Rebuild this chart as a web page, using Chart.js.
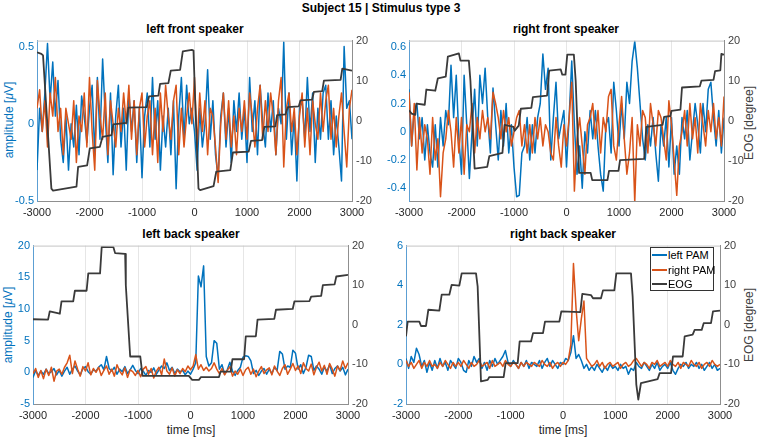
<!DOCTYPE html>
<html><head><meta charset="utf-8">
<script src="https://cdn.jsdelivr.net/npm/chart.js@4.4.1/dist/chart.umd.min.js"></script>
<style>
html,body{margin:0;padding:0;background:#fff;}
body{width:762px;height:440px;position:relative;overflow:hidden;font-family:'Liberation Sans',Arial,Helvetica,sans-serif;}
canvas{position:absolute;}
.lbl{position:absolute;white-space:nowrap;transform:translate(-50%,-50%);line-height:1;}
.ttl{font-weight:bold;font-size:12px;color:#000;}
.ax{font-size:12px;}
.rot{transform:translate(-50%,-50%) rotate(-90deg);}
#legend{position:absolute;left:650px;top:247px;width:62px;height:42px;border:1px solid #333;background:#fff;font-size:11px;color:#000;}
.li{position:absolute;left:0;height:14px;width:62px;}
.li span.sw{position:absolute;left:1px;top:6px;width:15px;height:2px;}
.li span.tx{position:absolute;left:17px;top:0;line-height:14px;white-space:nowrap;}
</style>
</head><body>

<div class="lbl ttl" style="left:381px;top:8px;">Subject 15 | Stimulus type 3</div>
<div class="lbl ttl" style="left:195px;top:29px;">left front speaker</div>
<div class="lbl ttl" style="left:566px;top:29px;">right front speaker</div>
<div class="lbl ttl" style="left:191px;top:234px;">left back speaker</div>
<div class="lbl ttl" style="left:563px;top:234px;">right back speaker</div>

<div class="lbl ax rot" style="left:9px;top:120px;color:#0072BD;">amplitude [<i>μ</i>V]</div>
<div class="lbl ax rot" style="left:8px;top:325px;color:#0072BD;">amplitude [<i>μ</i>V]</div>
<div class="lbl ax rot" style="left:749px;top:123px;color:#404040;">EOG [degree]</div>
<div class="lbl ax rot" style="left:749px;top:325px;color:#404040;">EOG [degree]</div>
<div class="lbl ax" style="left:191px;top:430px;color:#262626;">time [ms]</div>
<div class="lbl ax" style="left:563px;top:430px;color:#262626;">time [ms]</div>

<canvas id="cTL" width="381" height="195" style="left:5px;top:30px;"></canvas>
<canvas id="cTR" width="381" height="195" style="left:377px;top:30px;"></canvas>
<canvas id="cBL" width="381" height="193" style="left:1px;top:235px;"></canvas>
<canvas id="cBR" width="380" height="193" style="left:374px;top:235px;"></canvas>

<div id="legend">
  <div class="li" style="top:0px;"><span class="sw" style="background:#0072BD"></span><span class="tx">left PAM</span></div>
  <div class="li" style="top:15px;"><span class="sw" style="background:#D95319"></span><span class="tx">right PAM</span></div>
  <div class="li" style="top:29px;"><span class="sw" style="background:#3a3a3a"></span><span class="tx">EOG</span></div>
</div>

<script>
// ---------------- data ----------------
const timeMs = [
 -3000,-2950,-2900,-2850,-2800,-2750,-2700,-2650,-2600,-2550,
 -2500,-2450,-2400,-2350,-2300,-2250,-2200,-2150,-2100,-2050,
 -2000,-1950,-1900,-1850,-1800,-1750,-1700,-1650,-1600,-1550,
 -1500,-1450,-1400,-1350,-1300,-1250,-1200,-1150,-1100,-1050,
 -1000,-950,-900,-850,-800,-750,-700,-650,-600,-550,
 -500,-450,-400,-350,-300,-250,-200,-150,-100,-50,
 0,50,100,150,200,250,300,350,400,450,
 500,550,600,650,700,750,800,850,900,950,
 1000,1050,1100,1150,1200,1250,1300,1350,1400,1450,
 1500,1550,1600,1650,1700,1750,1800,1850,1900,1950,
 2000,2050,2100,2150,2200,2250,2300,2350,2400,2450,
 2500,2550,2600,2650,2700,2750,2800,2850,2900,2950,
 3000];

const xTicks = [-3000,-2000,-1000,0,1000,2000,3000];
const eogTicks = [-20,-10,0,10,20];
const ampTicksTL = [-0.5,0,0.5];
const ampTicksTR = [-0.4,-0.2,0,0.2,0.4,0.6];
const ampTicksBL = [-5,0,5,10,15,20];
const ampTicksBR = [-2,0,2,4,6];

// left front speaker
const leftPamTL = [
 -0.30,0.10,-0.05,0.20,0.52,0.15,0.40,0.05,0.28,-0.10,
 -0.25,0.05,-0.30,0.00,-0.15,0.12,-0.20,0.18,0.05,-0.12,
 0.10,0.25,-0.20,0.30,-0.10,0.42,0.05,-0.25,0.20,-0.33,
 0.05,0.25,-0.15,0.10,-0.30,0.20,-0.05,0.15,-0.25,0.10,
 -0.35,0.05,0.20,-0.15,0.30,-0.10,0.15,-0.30,0.05,-0.15,
 0.10,-0.20,0.15,-0.42,0.05,0.30,-0.10,0.25,0.00,0.10,
 -0.05,-0.30,0.10,-0.15,0.00,0.35,-0.10,0.15,-0.20,-0.35,
 0.05,0.20,-0.15,0.10,-0.25,0.15,-0.05,0.20,-0.10,0.10,
 -0.25,0.30,-0.05,0.15,-0.20,0.25,0.00,-0.15,0.20,-0.05,
 0.15,-0.20,0.10,0.00,0.53,-0.10,0.20,-0.20,0.05,-0.37,
 0.10,0.15,-0.10,0.30,-0.05,0.20,-0.25,0.10,-0.10,0.20,
 0.25,-0.10,0.15,-0.20,0.05,-0.15,-0.37,0.50,0.10,0.15,
 -0.10];
const rightPamTL = [
 0.10,0.22,-0.05,0.15,-0.15,0.20,0.05,0.30,-0.05,0.10,
 -0.20,0.10,0.00,-0.10,0.15,-0.25,0.05,-0.05,0.20,-0.15,
 0.30,-0.05,-0.30,0.28,0.05,-0.10,0.20,-0.20,0.15,0.00,
 -0.15,0.10,-0.05,0.20,0.00,0.25,-0.10,0.15,-0.20,0.10,
 0.20,-0.15,0.05,0.15,-0.20,0.10,-0.25,0.20,-0.05,0.25,
 0.05,-0.10,0.15,0.25,-0.20,0.10,-0.15,0.05,0.20,0.00,
 0.30,-0.15,0.20,-0.05,0.15,-0.20,0.10,0.05,-0.15,-0.38,
 0.00,0.20,-0.10,0.15,-0.15,0.05,-0.20,0.10,-0.05,0.15,
 -0.10,0.20,0.05,-0.15,0.10,0.25,-0.10,0.15,-0.05,0.20,
 0.05,-0.20,0.15,0.30,-0.28,0.10,0.20,-0.05,0.10,-0.20,
 0.05,0.20,-0.15,0.10,-0.20,0.15,0.00,-0.10,0.20,-0.05,
 0.15,0.25,-0.10,0.10,-0.15,0.05,0.20,-0.05,-0.28,0.10,
 0.22];
const eogTimeTL = [-3000,-2917,-2885,-2726,-2694,-2248,-2217,-2045,-1994,-1803,-1752,-1580,-1548,-1293,-1261,-911,-866,-688,-656,-497,-452,-274,-223,-51,-19,13,76,108,363,414,682,732,1032,1076,1287,1331,1541,1573,1732,1777,1987,2019,2242,2274,2433,2465,2783,2815,3000];
const eogTL = [17.1,16.7,16.3,-16.9,-17.4,-16.4,-11.5,-11.1,-6.9,-6.5,-4.0,-3.6,-0.9,-0.5,3.3,3.4,6.1,6.3,9.2,9.4,12.5,12.7,17.3,17.7,17.5,5.0,-16.9,-17.3,-16.3,-12.7,-12.3,-7.9,-7.7,-5.0,-4.8,-1.5,-1.4,1.4,1.6,3.4,3.6,5.1,5.3,7.2,7.4,10.0,10.2,13.0,12.5];

// right front speaker
const leftPamTR = [
 0.30,-0.10,0.15,0.20,-0.05,0.10,-0.20,0.05,-0.15,-0.25,
 0.05,-0.25,0.10,-0.10,0.15,0.05,0.47,0.10,0.40,-0.05,
 -0.30,0.40,0.05,-0.33,0.00,0.30,-0.10,0.40,0.20,0.45,
 0.10,-0.15,0.31,0.05,-0.20,0.15,-0.10,0.20,-0.15,0.05,
 -0.25,-0.46,-0.45,-0.15,-0.10,0.10,-0.20,0.05,-0.15,0.10,
 0.20,0.55,0.30,0.45,-0.20,0.10,0.35,-0.05,0.05,0.15,
 -0.25,0.10,0.50,0.05,-0.30,-0.10,-0.40,0.00,-0.15,0.15,
 -0.05,0.15,-0.10,-0.30,-0.42,0.05,0.10,-0.15,0.35,0.15,
 -0.10,0.20,-0.05,0.35,0.20,0.50,0.64,0.45,0.20,-0.05,
 -0.20,0.05,-0.10,0.10,-0.15,-0.35,0.05,-0.10,0.10,-0.25,
 0.10,-0.30,-0.10,-0.30,0.10,-0.05,0.15,-0.20,0.00,0.20,
 0.05,-0.15,0.20,0.00,0.30,0.35,0.10,-0.10,0.15,-0.15,
 0.10];
const rightPamTR = [
 0.28,-0.10,0.20,-0.27,0.10,-0.15,0.05,-0.05,-0.30,0.10,
 -0.20,-0.05,-0.46,-0.15,-0.05,0.15,0.00,-0.25,0.10,-0.15,
 0.10,-0.30,0.05,0.00,0.20,-0.15,0.10,-0.05,0.15,0.00,
 0.10,-0.05,0.28,0.20,0.10,-0.05,0.15,0.00,0.10,-0.10,
 0.00,0.10,0.15,-0.10,0.05,-0.15,0.05,-0.15,0.10,-0.05,
 0.10,-0.10,0.05,0.00,-0.15,-0.20,0.10,-0.10,-0.25,0.05,
 -0.10,0.10,0.35,-0.42,-0.05,0.10,-0.10,-0.30,0.05,0.10,
 0.20,-0.05,0.15,-0.15,0.10,0.00,0.25,0.30,-0.10,-0.20,
 0.05,0.25,-0.05,-0.30,-0.15,0.10,-0.50,0.05,-0.10,0.15,
 0.10,-0.15,0.20,0.05,-0.10,0.15,0.10,-0.05,-0.20,0.22,
 0.05,-0.20,-0.45,-0.10,0.00,0.15,-0.10,0.20,-0.05,0.10,
 -0.15,0.20,0.05,-0.10,0.15,0.00,0.20,-0.05,0.10,-0.10,
 0.25];
const eogTimeTR = [-3000,-2950,-2880,-2860,-2700,-2670,-2500,-2450,-2300,-2260,-2050,-2020,-1860,-1830,-1750,-1510,-1470,-1220,-1180,-1010,-990,-910,-870,-670,-640,-370,-330,-110,-80,-20,15,140,175,240,460,490,780,810,990,1020,1480,1520,1830,1860,1980,2000,2170,2200,2540,2570,2800,2830,2930,2950,3000];
const eogTR = [2.6,1.8,1.5,4.3,4.0,7.8,7.5,10.6,11.0,16.0,16.8,15.0,15.0,10.0,-11.9,-11.5,-8.8,-8.0,-1.0,-1.5,-2.5,-1.2,3.0,3.2,5.9,6.3,12.5,12.8,11.5,11.5,16.5,16.5,10.0,-13.0,-13.0,-14.8,-14.8,-12.5,-12.5,-9.8,-9.5,-1.5,-1.0,1.0,1.2,2.5,2.8,8.3,8.6,10.0,10.2,12.4,12.6,16.7,16.5];

// left back speaker
const leftPamBL = [
 -0.8,0.3,-0.5,0.2,-0.3,0.5,-0.2,0.1,0.6,-0.4,
 0.3,-0.6,0.2,0.8,-0.3,0.5,1.0,0.2,-0.4,0.6,
 0.9,0.1,-0.3,0.4,0.2,0.8,1.2,0.4,2.5,0.6,
 0.2,0.8,-0.3,0.5,0.1,0.9,-0.2,0.4,1.1,0.3,
 -0.2,0.6,0.2,-0.5,0.3,0.0,0.7,-0.3,0.4,1.0,
 0.6,1.5,0.3,0.8,-0.2,0.5,0.1,0.3,-0.4,0.2,
 -0.3,0.5,1.5,15.2,13.5,16.8,2.5,1.0,1.5,5.0,
 4.6,0.5,1.2,-0.3,0.4,1.6,0.2,-0.5,0.3,0.8,
 2.4,2.6,2.5,1.8,-0.2,0.3,-0.5,0.2,0.6,-0.3,
 0.5,-0.2,0.8,0.3,3.3,2.9,0.5,1.0,0.8,3.5,
 3.0,0.5,1.2,-0.2,0.8,2.7,2.5,0.3,1.0,0.5,
 -0.3,0.8,0.2,1.2,-0.2,0.6,1.0,0.2,0.8,-0.4,
 0.5];
const rightPamBL = [
 -0.2,0.6,-0.8,0.3,-1.0,0.5,-0.5,0.8,-1.4,0.2,
 0.5,-0.3,0.8,1.5,2.7,-0.2,1.8,0.5,-0.6,0.9,
 0.2,1.5,-0.4,0.6,0.0,0.8,-0.5,0.3,1.0,-0.3,
 0.5,-0.6,1.2,0.2,-0.4,0.7,-0.8,0.4,0.1,-0.5,
 0.3,-0.7,0.5,0.9,-0.3,0.6,-0.9,0.2,0.8,-0.4,
 2.1,0.2,-0.3,0.7,-0.6,0.4,-0.2,0.6,0.1,1.0,
 0.4,1.0,2.8,0.5,1.2,0.3,0.8,0.2,0.6,1.5,
 0.5,-0.2,0.6,-0.4,0.3,0.9,-0.6,0.2,-0.3,0.5,
 -0.5,0.4,0.8,-0.3,0.5,-0.7,0.2,0.9,-0.2,0.4,
 0.7,-0.4,1.0,0.2,-0.5,0.6,1.2,-0.3,0.5,1.4,
 0.3,1.0,-0.2,1.5,0.6,0.2,1.3,-0.4,0.8,1.6,
 0.2,1.1,-0.3,1.4,0.5,-0.6,1.0,0.3,1.8,0.6,
 1.5];
const eogTimeBL = [-3000,-2713,-2681,-2489,-2457,-2234,-2202,-1979,-1947,-1723,-1691,-1468,-1436,-1245,-1232,-1149,-957,-913,-32,32,160,200,543,574,766,798,1021,1053,1245,1277,1596,1628,1947,1979,2266,2298,2489,2521,2745,2777,3000];
const eogBL = [1.4,1.3,3.4,2.8,5.9,5.9,8.6,8.6,13.0,13.0,19.7,19.6,18.1,17.9,10.0,-8.0,-8.0,-12.9,-12.9,-13.9,-13.9,-13.2,-13.2,-11.8,-11.8,-8.7,-8.7,-2.9,-2.9,1.3,1.5,3.8,4.0,5.9,6.0,7.1,7.3,10.0,10.2,12.2,12.6];

// right back speaker
const leftPamBR = [
 0.3,-0.2,0.4,0.1,0.82,0.5,-0.1,0.2,-0.4,0.1,
 -0.3,0.2,-0.2,0.3,-0.1,0.1,-0.3,0.2,0.0,-0.2,
 0.3,0.1,-0.3,-0.4,0.2,-0.1,0.4,0.1,0.3,-0.2,
 0.1,-0.3,0.2,-0.1,0.3,0.0,0.2,0.4,0.7,0.1,
 -0.1,0.2,0.0,-0.2,0.1,-0.1,0.2,-0.2,0.1,0.0,
 -0.1,0.2,-0.2,0.1,0.3,-0.1,0.2,0.0,-0.2,0.1,
 0.0,0.3,0.2,0.6,1.45,0.3,0.5,0.2,-0.2,0.0,
 -0.3,-0.1,-0.3,0.0,-0.2,-0.4,-0.1,-0.3,0.0,-0.2,
 -0.1,-0.3,0.0,-0.2,-0.1,-0.5,-0.2,-0.3,0.1,-0.1,
 -0.2,0.1,-0.1,-0.3,0.0,-0.2,0.1,-0.3,-0.1,0.0,
 -0.2,0.1,-0.3,-0.5,-0.2,0.0,-0.1,0.1,-0.2,0.0,
 -0.1,0.1,-0.2,0.0,-0.3,-0.1,0.1,-0.2,0.0,-0.3,
 -0.2];
const rightPamBR = [
 0.2,-0.1,0.1,-0.2,0.0,0.2,-0.2,0.1,-0.1,0.2,
 -0.1,0.0,-0.2,0.1,-0.1,0.2,0.0,-0.2,0.1,-0.1,
 0.1,-0.1,0.2,0.0,-0.2,0.1,-0.1,0.0,0.2,-0.1,
 0.0,0.1,-0.2,0.2,-0.1,0.0,0.1,-0.1,0.2,0.0,
 -0.1,0.1,0.0,-0.2,0.1,-0.1,0.1,0.0,-0.1,0.1,
 0.0,-0.1,0.2,0.0,-0.1,0.1,-0.2,0.0,0.1,-0.1,
 0.1,0.0,0.2,1.0,5.1,2.8,1.2,2.3,3.2,0.3,
 0.1,-0.1,0.0,0.2,-0.1,0.1,-0.2,0.0,0.1,-0.1,
 0.0,0.1,-0.2,0.0,0.1,-0.1,0.0,0.2,0.3,0.1,
 -0.1,0.1,0.0,-0.2,0.1,0.0,0.2,-0.1,0.0,0.1,
 -0.1,0.2,0.0,-0.1,0.1,-0.2,0.1,0.0,-0.1,0.2,
 0.0,-0.1,0.1,-0.2,0.0,0.1,-0.1,0.2,0.0,-0.1,
 0.0];
const eogTimeBR = [-3000,-2968,-2745,-2713,-2618,-2573,-2363,-2318,-2172,-2127,-1981,-1936,-1662,-1631,-1567,-1439,-1408,-1134,-1096,-866,-828,-611,-573,-382,-344,-70,-32,331,369,535,573,726,764,981,1019,1299,1331,1401,1439,1490,1809,1847,2064,2102,2287,2325,2478,2516,2650,2688,2828,2866,3000];
const eogBR = [-2.9,0.8,0.8,-0.3,-0.3,3.8,3.6,7.6,7.6,10.1,9.9,13.0,13.0,9.7,-14.3,-13.9,-13.2,-13.2,-9.7,-9.7,-4.2,-4.2,-2.1,-2.1,0.8,0.8,3.4,3.2,7.8,7.5,6.7,6.7,8.7,8.7,13.0,13.0,7.1,-15.1,-18.9,-14.7,-13.7,-12.2,-12.2,-8.0,-8.0,-2.9,-2.5,-1.3,-1.3,0.4,0.4,3.4,3.6];

// ---------------- drawing ----------------
const BLUE = '#0072BD', ORANGE = '#D95319', EOGC = '#3a3a3a';
Chart.defaults.font.family = "'Liberation Sans', Arial, Helvetica, sans-serif";
Chart.defaults.font.size = 11;
Chart.defaults.animation = false;

const LW = 32, RW = 34, BH = 24, TP = 10;

const boxPlugin = {
  id: 'boxTop',
  afterDraw(chart) {
    const a = chart.chartArea, ctx = chart.ctx;
    ctx.save();
    ctx.strokeStyle = '#c4c4c4';
    ctx.lineWidth = 1;
    ctx.beginPath();
    ctx.moveTo(a.left, a.top + 0.5);
    ctx.lineTo(a.right, a.top + 0.5);
    ctx.stroke();
    ctx.restore();
  }
};

function fmt(v) { return String(Math.round(v * 1000) / 1000); }
function pairs(xs, ys) { return xs.map((x, i) => ({x: x, y: ys[i]})); }

function makeChart(id, leftSeries, rightSeries, eogT, eogV, ampMin, ampMax, ampTicks) {
  new Chart(document.getElementById(id), {
    type: 'line',
    data: {
      datasets: [
        {label: 'left PAM', data: pairs(timeMs, leftSeries), borderColor: BLUE, borderWidth: 1.5, yAxisID: 'y', order: 2},
        {label: 'right PAM', data: pairs(timeMs, rightSeries), borderColor: ORANGE, borderWidth: 1.5, yAxisID: 'y', order: 1},
        {label: 'EOG', data: pairs(eogT, eogV), borderColor: EOGC, borderWidth: 1.8, yAxisID: 'y2', order: 0}
      ]
    },
    options: {
      responsive: false,
      maintainAspectRatio: false,
      devicePixelRatio: 1,
      animation: false,
      parsing: false,
      normalized: true,
      elements: {point: {radius: 0}, line: {tension: 0, borderJoinStyle: 'round'}},
      layout: {padding: {top: TP, left: 0, right: 0, bottom: 0}},
      plugins: {legend: {display: false}, tooltip: {enabled: false}, title: {display: false}},
      scales: {
        x: {
          type: 'linear', min: -3000, max: 3000,
          afterBuildTicks: s => { s.ticks = xTicks.map(v => ({value: v})); },
          afterFit: s => { s.height = BH; },
          ticks: {color: '#262626', padding: 5, maxRotation: 0, autoSkip: false, callback: fmt, font: {size: 11}},
          grid: {color: '#e6e6e6', drawTicks: false, lineWidth: 1},
          border: {display: true, color: '#8f8f8f'}
        },
        y: {
          type: 'linear', position: 'left', min: ampMin, max: ampMax,
          afterBuildTicks: s => { s.ticks = ampTicks.map(v => ({value: v})); },
          afterFit: s => { s.width = LW; },
          ticks: {color: BLUE, padding: 3, autoSkip: false, callback: fmt, font: {size: 11}},
          grid: {display: false, drawTicks: false},
          border: {display: true, color: '#5c9fd3'}
        },
        y2: {
          type: 'linear', position: 'right', min: -20, max: 20,
          afterBuildTicks: s => { s.ticks = eogTicks.map(v => ({value: v})); },
          afterFit: s => { s.width = RW; },
          ticks: {color: '#404040', padding: 4, autoSkip: false, callback: fmt, font: {size: 11}},
          grid: {display: false, drawTicks: false},
          border: {display: true, color: '#8f8f8f'}
        }
      }
    },
    plugins: [boxPlugin]
  });
}

makeChart('cTL', leftPamTL, rightPamTL, eogTimeTL, eogTL, -0.5, 0.539, ampTicksTL);
makeChart('cTR', leftPamTR, rightPamTR, eogTimeTR, eogTR, -0.49, 0.645, ampTicksTR);
makeChart('cBL', leftPamBL, rightPamBL, eogTimeBL, eogBL, -5, 20, ampTicksBL);
makeChart('cBR', leftPamBR, rightPamBR, eogTimeBR, eogBR, -2, 6, ampTicksBR);
</script>
</body></html>
